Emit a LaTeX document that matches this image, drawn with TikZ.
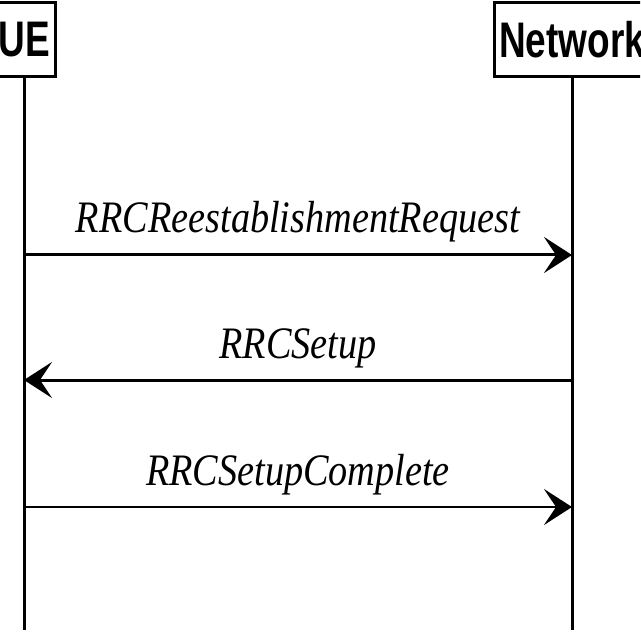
\documentclass[tikz,border=0pt]{standalone}
\usepackage{fontspec}
\usetikzlibrary{arrows.meta,positioning}
\newfontfamily\msgfam{Liberation Serif}[FakeStretch=0.85]
\newfontfamily\entfam{Liberation Sans}[FakeStretch=0.74]
\tikzset{
  ent/.style={draw, line width=1.5pt, font=\entfam\bfseries\fontsize{25}{29}\selectfont,
              minimum height=37pt, inner sep=0pt},
  life/.style={line width=1.5pt},
  msg/.style={-{Stealth[length=14pt, width=18pt, inset=6pt]}, line width=1.5pt},
  thinmsg/.style={msg, line width=1pt},
  msglbl/.style={font=\msgfam\itshape\fontsize{22.5}{26}\selectfont, anchor=base, yshift=11pt},
}
\begin{document}
\begin{tikzpicture}[x=0.5pt, y=-0.5pt]
  \clip (0,0) rectangle (640,640);
  \useasboundingbox (0,0) rectangle (640,640);
  % entities
  \node[ent, minimum width=31pt] (ue) at (24,40) {UE};
  \node[ent, minimum width=78pt] (nw) at (572,40) {Network};
  \coordinate (ueend) at (24,630);
  \coordinate (nwend) at (572,630);
  \draw[life] (ue.south) -- (ueend);
  \draw[life] (nw.south) -- (nwend);
  % messages
  \coordinate (ue1) at (24,255);  \coordinate (nw1) at (572,255);
  \coordinate (ue2) at (24,380);  \coordinate (nw2) at (572,380);
  \coordinate (ue3) at (24,507);  \coordinate (nw3) at (572,507);
  \draw[msg] (ue1) -- node[msglbl] (req) {RRCReestablishmentRequest} (nw1);
  \draw[msg] (nw2) -- node[msglbl] (setup) {RRCSetup} (ue2);
  \draw[thinmsg] (ue3) -- node[msglbl] (cmpl) {RRCSetupComplete} (nw3);
\end{tikzpicture}
\end{document}
